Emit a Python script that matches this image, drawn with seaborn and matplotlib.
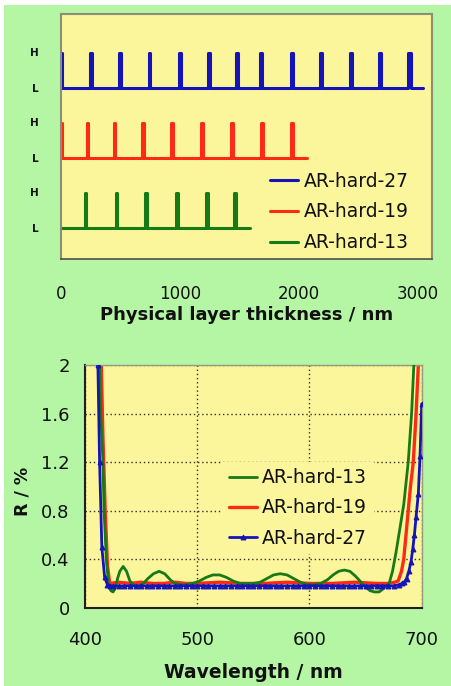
import pandas as pd
import seaborn as sns
import matplotlib.pyplot as plt
from matplotlib.patches import Rectangle

# ---- top panel: layer stacks (H-layer start / thickness, total thickness in nm)
names_stack = ["AR-hard-27", "AR-hard-19", "AR-hard-13"]
h_start_27 = [0, 245, 492, 738, 996, 1238, 1476, 1676, 1933, 2177, 2428, 2673, 2918]
h_width_27 = [12, 14, 14, 14, 12, 14, 14, 16, 16, 18, 18, 20, 22]
h_start_19 = [0, 220, 445, 684, 929, 1178, 1435, 1684, 1933]
h_width_19 = [8, 8, 10, 12, 12, 14, 14, 16, 18]
h_start_13 = [200, 463, 710, 968, 1220, 1460]
h_width_13 = [14, 14, 14, 14, 14, 14]
total_nm = [3047, 2067, 1591]
low_level = [4, 2, 0]
stack_ticks = [0, 1, 2, 3, 4, 5]
stack_ticklabels = ["L", "H", "L", "H", "L", "H"]

# ---- bottom panel: reflectance R / % vs wavelength / nm
wl_13 = [410, 413, 414, 416, 417, 419, 421, 423, 425, 427, 429, 431, 434, 437, 440, 444,
         448, 452, 456, 461, 466, 471, 476, 480, 485, 490, 496, 502, 508, 514, 520, 526,
         532, 538, 544, 550, 556, 562, 568, 574, 580, 586, 592, 598, 604, 610, 616, 621,
         626, 631, 636, 641, 646, 650, 654, 658, 662, 665, 668, 671, 674, 677, 680, 684,
         688, 691, 693, 696, 700]
r_13 = [2.6, 2.0, 1.6, 1.2, 0.8, 0.4, 0.2, 0.14, 0.13, 0.16, 0.24, 0.30, 0.34, 0.30, 0.22, 0.18,
        0.18, 0.2, 0.24, 0.28, 0.30, 0.28, 0.23, 0.2, 0.19, 0.19, 0.2, 0.22, 0.25, 0.27, 0.27, 0.25,
        0.22, 0.2, 0.2, 0.2, 0.21, 0.24, 0.27, 0.28, 0.27, 0.24, 0.21, 0.19, 0.19, 0.2, 0.23, 0.27,
        0.30, 0.31, 0.30, 0.26, 0.21, 0.17, 0.14, 0.13, 0.13, 0.15, 0.18, 0.2, 0.3, 0.45, 0.62, 0.85,
        1.2, 1.6, 2.0, 2.5, 3.0]

wl_19 = [410, 414.5, 416, 418, 420, 422, 430, 440, 450, 460, 470, 480, 490, 500, 520, 540,
         560, 580, 600, 620, 640, 660, 670, 676, 679, 682, 684, 686, 688, 690, 692.5, 695,
         697, 700]
r_19 = [2.8, 2.0, 1.4, 0.8, 0.35, 0.2, 0.21, 0.2, 0.21, 0.2, 0.2, 0.21, 0.2, 0.2, 0.21, 0.2,
        0.2, 0.21, 0.2, 0.2, 0.21, 0.2, 0.2, 0.21, 0.22, 0.3, 0.4, 0.6, 0.8, 1.0, 1.2, 1.6,
        2.0, 2.6]

wl_27 = [410, 411.5, 413, 415, 417.5, 420, 422.5, 425, 430, 435, 440, 445, 450, 455, 460,
         465, 470, 475, 480, 485, 490, 495, 500, 505, 510, 515, 520, 525, 530, 535, 540,
         545, 550, 555, 560, 565, 570, 575, 580, 585, 590, 595, 600, 605, 610, 615, 620,
         625, 630, 635, 640, 645, 650, 655, 660, 665, 670, 675, 680, 682.5, 684.5, 686.5,
         688.5, 690.5, 692, 693.5, 695, 697, 698.5, 700]
r_27 = [2.6, 2.0, 1.2, 0.5, 0.25, 0.19, 0.18, 0.18, 0.18, 0.18, 0.18, 0.18, 0.18, 0.18, 0.18,
        0.18, 0.18, 0.18, 0.18, 0.18, 0.18, 0.18, 0.18, 0.18, 0.18, 0.18, 0.18, 0.18, 0.18,
        0.18, 0.18, 0.18, 0.18, 0.18, 0.18, 0.18, 0.18, 0.18, 0.18, 0.18, 0.18, 0.18, 0.18,
        0.18, 0.18, 0.18, 0.18, 0.18, 0.18, 0.18, 0.18, 0.18, 0.18, 0.18, 0.18, 0.18, 0.18,
        0.18, 0.19, 0.2, 0.21, 0.24, 0.3, 0.38, 0.48, 0.6, 0.75, 0.94, 1.25, 1.68]

blue = "#1414b8"
red = "#ff2a14"
green = "#167a16"
bg_green = "#b4f6a4"
bg_yellow = "#fbf59c"

sns.set_style("white")
plt.rcParams["font.family"] = ["DejaVu Sans"]
plt.rcParams["text.color"] = "#111111"
plt.rcParams["axes.labelcolor"] = "#111111"
plt.rcParams["xtick.labelcolor"] = "#111111"
plt.rcParams["ytick.labelcolor"] = "#111111"

fig = plt.figure(figsize=(4.52, 6.86), dpi=100, facecolor="white")
fig.patches.append(Rectangle((4 / 452, 0), 1, 681 / 686, transform=fig.transFigure,
                             facecolor=bg_green, edgecolor="none", zorder=-10))

# ---------------- top panel
ax1 = fig.add_axes([60.7 / 452, 427 / 686, 371.3 / 452, 245 / 686])
ax1.set_facecolor(bg_yellow)

rows = []
stacks = [(h_start_27, h_width_27), (h_start_19, h_width_19), (h_start_13, h_width_13)]
for name, (starts, widths), tot, lo in zip(names_stack, stacks, total_nm, low_level):
    xs, ys = [0], [lo]
    for s, w in zip(starts, widths):
        xs += [s, s, s + w, s + w]
        ys += [lo, lo + 1, lo + 1, lo]
    xs.append(tot)
    ys.append(lo)
    for x, y in zip(xs, ys):
        rows.append({"x": x, "y": y, "design": name})
stack_df = pd.DataFrame(rows)

sns.lineplot(data=stack_df, x="x", y="y", hue="design", hue_order=names_stack,
             palette=[blue, red, green], sort=False, estimator=None, lw=2.2, ax=ax1)
ax1.set_xlim(0, 3120)
ax1.set_ylim(-0.9, 6.1)
ax1.set_xticks([0, 1000, 2000, 3000])
ax1.set_xticklabels(["0", "1000", "2000", "3000"], fontsize=12)
ax1.set_yticks(stack_ticks)
ax1.set_yticklabels(stack_ticklabels, fontsize=7.5, fontweight="bold")
ax1.tick_params(axis="y", length=0, pad=16)
ax1.tick_params(axis="x", direction="inout", length=7, width=1.2, color="#505050", pad=15)
for side in ["left", "top", "right"]:
    ax1.spines[side].set_color("#8e8e78")
    ax1.spines[side].set_linewidth(1.5)
ax1.spines["bottom"].set_color("#505050")
ax1.spines["bottom"].set_linewidth(1.2)
ax1.set_ylabel("")
ax1.set_xlabel("Physical layer thickness / nm", fontsize=13, fontweight="heavy")
ax1.xaxis.set_label_coords(0.5, -0.229)
ax1.xaxis.label.set_verticalalignment("center")
ax1.legend(loc="center left", bbox_to_anchor=(0.564, 0.192), frameon=False, fontsize=13.5,
           handlelength=1.5, handletextpad=0.3, borderpad=0, borderaxespad=0, labelspacing=0.62)

# ---------------- bottom panel
ax2 = fig.add_axes([85 / 452, 78.3 / 686, 336.7 / 452, 242.7 / 686])
ax2.set_facecolor(bg_yellow)
ax2.grid(True, color="#303030", linestyle=(0, (1, 2)), linewidth=1.0)
sns.lineplot(x=wl_13, y=r_13, color=green, lw=2.0, label="AR-hard-13", ax=ax2, zorder=3)
sns.lineplot(x=wl_19, y=r_19, color=red, lw=2.4, label="AR-hard-19", ax=ax2, zorder=2)
sns.lineplot(x=wl_27, y=r_27, color=blue, lw=2.0, marker="^", markersize=3.5,
             markeredgecolor=blue, label="AR-hard-27", ax=ax2, zorder=4)
ax2.set_xlim(400, 700)
ax2.set_ylim(0, 2)
ax2.set_xticks([400, 500, 600, 700])
ax2.set_xticklabels(["400", "500", "600", "700"], fontsize=13)
ax2.set_yticks([0, 0.4, 0.8, 1.2, 1.6, 2])
ax2.set_yticklabels(["0", "0.4", "0.8", "1.2", "1.6", "2"], fontsize=13)
ax2.tick_params(axis="both", direction="out", length=6, width=1.5, color="#202020")
ax2.tick_params(axis="x", pad=11)
ax2.tick_params(axis="y", pad=5)
for side in ["left", "bottom"]:
    ax2.spines[side].set_color("#202020")
    ax2.spines[side].set_linewidth(1.5)
for side in ["top", "right"]:
    ax2.spines[side].set_color("#9a9a80")
    ax2.spines[side].set_linewidth(1.0)
ax2.set_xlabel("Wavelength / nm", fontsize=13.5, fontweight="heavy")
ax2.set_ylabel("R / %", fontsize=12.5, fontweight="heavy")
ax2.xaxis.set_label_coords(0.5, -0.269)
ax2.xaxis.label.set_verticalalignment("center")
ax2.yaxis.set_label_coords(-0.187, 0.477)
ax2.yaxis.label.set_verticalalignment("center")
ax2.legend(loc="center left", bbox_to_anchor=(0.407, 0.411), frameon=True, facecolor=bg_yellow,
           edgecolor="none", framealpha=1, fancybox=False, fontsize=13.5, handlelength=1.5,
           handletextpad=0.3, borderpad=0.35, borderaxespad=0, labelspacing=0.6)

fig.savefig("out.png", dpi=100, facecolor=fig.get_facecolor())
